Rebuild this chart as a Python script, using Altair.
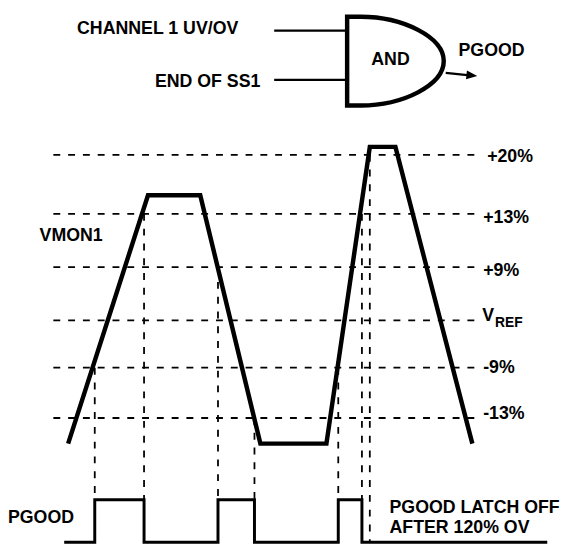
import altair as alt
import pandas as pd

# ---- diagram units: x = time axis (page px), y = level axis (page px, downward) ----
# threshold levels
level_labels = ["+20%", "+13%", "+9%", "V", "-9%", "-13%"]
level_y = [153, 213, 267, 321, 369, 420]
level_label_x = [494, 490, 490, 489, 490, 490]
level_label_y = [155, 217, 271, 317, 369, 416]
dash_start, dash_end = 54, 482

# VMON1 waveform
vmon_t = [69, 150, 203, 264, 331, 375, 401, 479]
vmon_v = [446, 194, 194, 446, 446, 145, 145, 446]

# PGOOD trace
pg_t = [65, 96, 96, 146, 146, 221, 221, 258, 258, 343, 343, 367, 367, 555]
pg_v = [546, 546, 503, 503, 546, 546, 503, 503, 546, 546, 503, 503, 546, 546]

# vertical dashed markers (time, from level, to level)
mark_t = [96, 146, 221, 258, 343, 367, 375]
mark_top = [369, 213, 267, 420, 369, 213, 153]
mark_bot = [503, 503, 503, 503, 503, 503, 546]

# logic gate inputs
in_y = [27, 77]
in_x1, in_x2 = 278, 352

# texts
txt = ["CHANNEL 1 UV/OV", "END OF SS1", "PGOOD", "VMON1", "PGOOD",
       "PGOOD LATCH OFF", "AFTER 120% OV"]
txt_x = [78, 157, 465, 40, 8, 395, 395]
txt_y = [25, 79, 48, 235, 521, 511, 532]

FONT = "Liberation Sans"
xs = alt.Scale(domain=[8, 574], nice=False, zero=False)
ys = alt.Scale(domain=[8, 550], nice=False, zero=False, reverse=True)
X = lambda f="x": alt.X(f"{f}:Q", scale=xs, axis=None)
Y = lambda f="y": alt.Y(f"{f}:Q", scale=ys, axis=None)

hd = pd.DataFrame({"y": level_y, "x": [dash_start] * 6, "x2": [dash_end] * 6})
hdash = alt.Chart(hd).mark_rule(color="black", strokeWidth=1.8, strokeDash=[7, 8]).encode(
    x=X(), x2="x2", y=Y())

vd = pd.DataFrame({"x": mark_t, "y": mark_top, "y2": mark_bot})
vdash = alt.Chart(vd).mark_rule(color="black", strokeWidth=1.8, strokeDash=[7, 8]).encode(
    x=X(), y=Y(), y2="y2")

wv = pd.DataFrame({"x": vmon_t, "y": vmon_v, "o": range(len(vmon_t))})
wave = alt.Chart(wv).mark_line(color="black", strokeWidth=4.5).encode(
    x=X(), y=Y(), order="o:Q")

pg = pd.DataFrame({"x": pg_t, "y": pg_v, "o": range(len(pg_t))})
pgood = alt.Chart(pg).mark_line(color="black", strokeWidth=3).encode(
    x=X(), y=Y(), order="o:Q")

inp = pd.DataFrame({"y": in_y, "x": [in_x1] * 2, "x2": [in_x2] * 2})
inputs = alt.Chart(inp).mark_rule(color="black", strokeWidth=2.2).encode(
    x=X(), x2="x2", y=Y())

gate_df = pd.DataFrame({"x": [401], "y": [58]})
gate_path = "M-1,-0.918 L-0.72,-0.918 C0.15,-0.918 1,-0.5 1,0 C1,0.5 0.15,0.918 -0.72,0.918 L-1,0.918 Z"
gate = alt.Chart(gate_df).mark_point(shape=gate_path, size=9604, filled=False,
                                     color="black", strokeWidth=4.5, opacity=1).encode(x=X(), y=Y())

arr = pd.DataFrame({"x": [452, 474], "y": [70, 72.2]})
arrow_line = alt.Chart(arr).mark_line(color="black", strokeWidth=2.2).encode(x=X(), y=Y())
head_df = pd.DataFrame({"x": [478.5], "y": [72.5]})
arrow_head = alt.Chart(head_df).mark_point(shape="M-1,-0.8 L1,0 L-1,0.8 Z", size=121, filled=True,
                                           color="black", opacity=1, angle=6).encode(x=X(), y=Y())

and_df = pd.DataFrame({"x": [396], "y": [57], "t": ["AND"]})
and_txt = alt.Chart(and_df).mark_text(font=FONT, fontWeight="bold", fontSize=18, align="center",
                                      baseline="middle", color="black").encode(x=X(), y=Y(), text="t:N")

tx = pd.DataFrame({"x": txt_x, "y": txt_y, "t": txt})
texts = alt.Chart(tx).mark_text(font=FONT, fontWeight="bold", fontSize=18, align="left",
                                baseline="middle", color="black").encode(x=X(), y=Y(), text="t:N")

lv = pd.DataFrame({"x": level_label_x, "y": level_label_y, "t": level_labels})
lv_txt = alt.Chart(lv).mark_text(font=FONT, fontWeight="bold", fontSize=18, align="left",
                                 baseline="middle", color="black").encode(x=X(), y=Y(), text="t:N")

sub = pd.DataFrame({"x": [502], "y": [323.5], "t": ["REF"]})
sub_txt = alt.Chart(sub).mark_text(font=FONT, fontWeight="bold", fontSize=14, align="left",
                                   baseline="middle", color="black").encode(x=X(), y=Y(), text="t:N")

chart = alt.layer(hdash, vdash, wave, pgood, inputs, gate, arrow_line, arrow_head,
                  and_txt, texts, lv_txt, sub_txt).properties(
    width=566, height=542, padding=0,
    autosize=alt.AutoSizeParams(type="none"),
    background="white",
).configure_view(stroke=None)

chart.save("out.html", embed_options={"renderer": "svg", "actions": False})
